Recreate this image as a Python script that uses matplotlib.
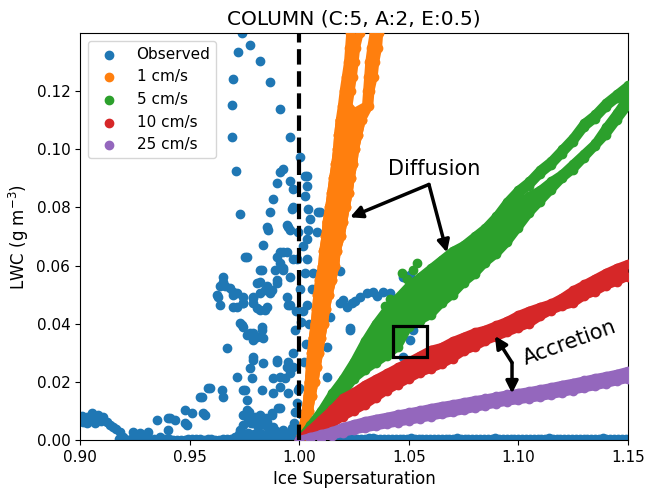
import matplotlib
matplotlib.use("Agg")
import matplotlib.pyplot as plt
from matplotlib.patches import Rectangle

# observed points (scattered part)
obs_x = [0.9739, 0.9776, 0.9721, 0.9821, 0.9698, 0.9867, 0.9693, 0.9912, 0.9693, 0.9958,
         1.0004, 0.9712, 0.9912, 0.9926, 0.9899, 0.9958, 0.9972, 0.9881, 0.9730, 0.9867,
         0.9853, 0.9944, 0.9972, 1.0036, 1.0027, 1.0027, 1.0036, 0.9967, 1.0040, 1.0086,
         1.0049, 0.9958, 1.0040, 0.9835, 1.0018, 0.9762, 0.9926, 0.9899, 0.9990, 0.9912,
         1.0036, 0.9821, 0.9890, 0.9926, 0.9652, 0.9639, 0.9625, 0.9684, 0.9698, 0.9807,
         0.9853, 0.9899, 0.9958, 0.9821, 0.9944, 1.0063, 0.9744, 0.9790, 0.9716, 0.9867,
         0.9639, 0.9698, 0.9744, 0.9790, 0.9821, 0.9853, 0.9958, 1.0036, 0.9730, 0.9744,
         0.9776, 0.9807, 0.9830, 0.9790, 0.9835, 0.9671, 0.9790, 0.9776, 0.9716, 0.9785,
         0.9899, 0.9949, 0.9972, 0.9881, 0.9935, 0.9958, 0.9912, 0.9593, 0.9547, 0.9648,
         0.9652, 0.9753, 0.9830, 0.9762, 0.9762, 0.9766, 0.9570, 0.9912, 0.9876, 0.9995,
         0.9990, 0.9790, 0.9821, 0.9853, 0.9881, 0.9926, 0.9730, 0.9990,
         0.9008, 0.9012, 0.9032, 0.9045, 0.9055, 0.9032, 0.9082, 0.9095, 0.9105, 0.9068,
         0.9123, 0.9138, 0.9151, 0.9165, 0.9182, 0.9196, 0.9242, 0.9274, 0.9310, 0.9351,
         0.9401, 0.9433, 0.9401, 0.9479, 0.9511, 0.9488, 0.9557, 0.9584, 0.9561, 0.9365,
         0.9306, 0.9899, 0.9944, 0.9912, 0.9880, 0.9949, 0.9876, 0.9903, 0.9790, 0.9835,
         0.9744, 0.9479, 0.9410, 0.9762, 0.9739, 0.9790, 0.9830, 0.9716, 0.9630, 0.9652,
         0.9661, 0.9698, 0.9744, 0.9790, 0.9807, 0.9844, 0.9821, 0.9844, 0.9876, 0.9899,
         0.9926, 0.9949, 0.9912, 0.9944, 0.9972, 0.9753, 0.9830, 0.9858, 0.9949, 0.9995,
         1.0027, 1.0036, 0.9725, 0.9745, 0.9765, 0.9780, 0.9795, 0.9810, 0.9830, 0.9845,
         0.9860, 0.9880, 0.9745, 0.9770, 0.9800, 0.9820, 0.9850, 0.9705, 0.9895, 0.9915,
         0.9955, 0.9975, 0.9980, 0.9965, 0.9985, 1.0018, 1.0045, 0.9980, 1.0030, 0.9970,
         1.0020, 1.0050, 1.0000, 1.0040, 1.0010, 1.0060, 1.0005, 1.0008, 0.9985, 1.0080,
         1.0095, 1.0186, 1.0186, 1.0218, 1.0241, 1.0277, 1.0309, 1.0337, 1.0382, 1.0414,
         1.0474, 1.0505, 1.0519, 1.0232, 1.0140, 1.0519, 1.0505, 1.0474, 1.0127, 1.0127,
         1.0200, 1.0232, 1.0355, 1.0255]
obs_y = [0.1400, 0.1359, 0.1334, 0.1303, 0.1241, 0.1231, 0.1152, 0.1138, 0.1041, 0.1041,
         0.0972, 0.0924, 0.0921, 0.0931, 0.0883, 0.0890, 0.0862, 0.0828, 0.0779, 0.0783,
         0.0734, 0.0741, 0.0803, 0.0907, 0.0838, 0.0907, 0.0872, 0.0793, 0.0793, 0.0783,
         0.0759, 0.0724, 0.0724, 0.0672, 0.0666, 0.0628, 0.0648, 0.0631, 0.0621, 0.0610,
         0.0621, 0.0586, 0.0586, 0.0593, 0.0562, 0.0528, 0.0500, 0.0524, 0.0500, 0.0541,
         0.0528, 0.0552, 0.0562, 0.0507, 0.0493, 0.0576, 0.0493, 0.0493, 0.0507, 0.0507,
         0.0466, 0.0459, 0.0472, 0.0472, 0.0448, 0.0459, 0.0466, 0.0466, 0.0403, 0.0390,
         0.0369, 0.0355, 0.0390, 0.0345, 0.0352, 0.0317, 0.0286, 0.0248, 0.0217, 0.0214,
         0.0269, 0.0269, 0.0252, 0.0214, 0.0214, 0.0231, 0.0183, 0.0179, 0.0148, 0.0172,
         0.0148, 0.0172, 0.0172, 0.0138, 0.0103, 0.0069, 0.0086, 0.0110, 0.0086, 0.0172,
         0.0128, 0.0059, 0.0069, 0.0062, 0.0045, 0.0034, 0.0034, 0.0034,
         0.0083, 0.0062, 0.0079, 0.0072, 0.0093, 0.0059, 0.0086, 0.0065, 0.0079, 0.0059,
         0.0062, 0.0050, 0.0045, 0.0038, 0.0028, 0.0010, 0.0028, 0.0024, 0.0028, 0.0069,
         0.0076, 0.0069, 0.0034, 0.0103, 0.0093, 0.0052, 0.0148, 0.0179, 0.0093, 0.0010,
         0.0007, 0.0276, 0.0252, 0.0217, 0.0162, 0.0162, 0.0093, 0.0110, 0.0276, 0.0265,
         0.0172, 0.0059, 0.0076, 0.0362, 0.0397, 0.0369, 0.0379, 0.0459, 0.0493, 0.0545,
         0.0528, 0.0510, 0.0472, 0.0490, 0.0455, 0.0448, 0.0545, 0.0517, 0.0517, 0.0541,
         0.0586, 0.0466, 0.0645, 0.0648, 0.0621, 0.0628, 0.0586, 0.0724, 0.0734, 0.0714,
         0.0576, 0.0690, 0.0020, 0.0050, 0.0025, 0.0060, 0.0020, 0.0045, 0.0020, 0.0050,
         0.0025, 0.0015, 0.0085, 0.0095, 0.0080, 0.0085, 0.0075, 0.0010, 0.0030, 0.0015,
         0.0020, 0.0060, 0.0095, 0.0040, 0.0010, 0.0445, 0.0400, 0.0380, 0.0330, 0.0300,
         0.0270, 0.0220, 0.0180, 0.0140, 0.0090, 0.0520, 0.0520, 0.0405, 0.0445, 0.0714,
         0.0783, 0.0580, 0.0472, 0.0459, 0.0472, 0.0493, 0.0507, 0.0510, 0.0510, 0.0507,
         0.0562, 0.0569, 0.0528, 0.0379, 0.0424, 0.0379, 0.0345, 0.0286, 0.0321, 0.0217,
         0.0483, 0.0386, 0.0497, 0.0479]

# observed points lying on the zero line
base_x = [0.9180, 0.9198, 0.9215, 0.9232, 0.9250, 0.9268, 0.9285, 0.9302, 0.9320, 0.9338,
          0.9355, 0.9372, 0.9390, 0.9408, 0.9425, 0.9442, 0.9460, 0.9478, 0.9495, 0.9512,
          0.9530, 0.9548, 0.9565, 0.9582, 0.9600, 0.9618, 0.9635, 0.9652, 0.9670, 0.9688,
          0.9705, 0.9740, 0.9775, 0.9810, 0.9845, 0.9880, 0.9915, 0.9950, 0.9985,
          1.0020, 1.0038, 1.0055, 1.0072, 1.0090, 1.0108, 1.0125, 1.0142, 1.0160, 1.0178,
          1.0195, 1.0212, 1.0230, 1.0248, 1.0265, 1.0282, 1.0300, 1.0318, 1.0335, 1.0352,
          1.0370, 1.0388, 1.0405, 1.0422, 1.0440, 1.0458, 1.0475, 1.0492, 1.0510, 1.0528,
          1.0545, 1.0562, 1.0580, 1.0598, 1.0615, 1.0632, 1.0650, 1.0668, 1.0685, 1.0702,
          1.0720, 1.0738, 1.0755, 1.0772, 1.0790, 1.0808, 1.0825, 1.0842, 1.0860, 1.0878,
          1.0895, 1.0912, 1.0930, 1.0948, 1.0965, 1.0982, 1.1000, 1.1018, 1.1035, 1.1052,
          1.1070, 1.1088, 1.1105, 1.1122, 1.1140, 1.1158, 1.1175, 1.1192, 1.1210, 1.1228,
          1.1245, 1.1262, 1.1280, 1.1298, 1.1315, 1.1332, 1.1350, 1.1368, 1.1385, 1.1402,
          1.1420, 1.1438, 1.1455, 1.1472, 1.1490]
base_y = [0.0002, 0.0001, 0.0000, 0.0002, 0.0003, 0.0001, 0.0001, 0.0000, 0.0000, 0.0002,
          0.0002, 0.0003, 0.0004, 0.0002, 0.0001, 0.0000, 0.0000, 0.0001, 0.0002, 0.0003,
          0.0003, 0.0002, 0.0001, 0.0002, 0.0002, 0.0001, 0.0000, 0.0002, 0.0003, 0.0004,
          0.0006, 0.0008, 0.0005, 0.0004, 0.0006, 0.0003, 0.0002, 0.0004, 0.0001,
          0.0003, 0.0004, 0.0005, 0.0003, 0.0004, 0.0005, 0.0006, 0.0004, 0.0003, 0.0004,
          0.0005, 0.0003, 0.0004, 0.0003, 0.0002, 0.0004, 0.0005, 0.0006, 0.0006, 0.0005,
          0.0004, 0.0003, 0.0003, 0.0004, 0.0005, 0.0004, 0.0004, 0.0005, 0.0006, 0.0004,
          0.0003, 0.0004, 0.0004, 0.0005, 0.0005, 0.0004, 0.0003, 0.0003, 0.0004, 0.0005,
          0.0006, 0.0005, 0.0004, 0.0003, 0.0003, 0.0004, 0.0005, 0.0004, 0.0004, 0.0005,
          0.0006, 0.0004, 0.0003, 0.0004, 0.0005, 0.0004, 0.0004, 0.0003, 0.0003, 0.0004,
          0.0005, 0.0004, 0.0004, 0.0005, 0.0006, 0.0004, 0.0003, 0.0004, 0.0005, 0.0004,
          0.0004, 0.0003, 0.0003, 0.0004, 0.0005, 0.0005, 0.0004, 0.0005, 0.0006, 0.0005,
          0.0004, 0.0004, 0.0005, 0.0004, 0.0004]

# model runs: edges of each band of points, sampled along ice supersaturation
band_x = [1.000, 1.005, 1.010, 1.015, 1.020, 1.025, 1.030, 1.035, 1.040, 1.045,
          1.050, 1.055, 1.060, 1.065, 1.070, 1.075, 1.080, 1.085, 1.090, 1.095,
          1.100, 1.105, 1.110, 1.115, 1.120, 1.125, 1.130, 1.135, 1.140, 1.145, 1.150]

w5_up = [0.000, 0.005, 0.010, 0.016, 0.021, 0.027, 0.034, 0.040, 0.045, 0.049,
         0.053, 0.056, 0.059, 0.062, 0.065, 0.067, 0.070, 0.073, 0.077, 0.082,
         0.086, 0.089, 0.093, 0.096, 0.100, 0.104, 0.109, 0.112, 0.116, 0.119, 0.122]
w5_up_in = [0.000, 0.0045, 0.009, 0.014, 0.018, 0.024, 0.029, 0.033, 0.037, 0.041,
            0.046, 0.048, 0.051, 0.054, 0.057, 0.060, 0.063, 0.067, 0.072, 0.0805,
            0.0845, 0.0875, 0.0915, 0.0945, 0.0985, 0.1025, 0.1075, 0.1105, 0.1145, 0.1175, 0.1205]
w5_low_in = [0.000, 0.0045, 0.009, 0.014, 0.018, 0.024, 0.029, 0.033, 0.037, 0.041,
             0.046, 0.048, 0.051, 0.054, 0.057, 0.060, 0.063, 0.067, 0.072, 0.077,
             0.0815, 0.084, 0.086, 0.089, 0.0915, 0.095, 0.0985, 0.102, 0.1075, 0.1125, 0.118]
w5_low = [0.000, 0.004, 0.008, 0.012, 0.016, 0.021, 0.024, 0.0265, 0.029, 0.032,
          0.039, 0.041, 0.043, 0.047, 0.050, 0.054, 0.057, 0.061, 0.064, 0.068,
          0.073, 0.078, 0.082, 0.086, 0.090, 0.093, 0.097, 0.101, 0.105, 0.110, 0.115]
w5_extra_x = [1.0519, 1.0537, 1.0490, 1.0470, 1.0414, 1.0390]
w5_extra_y = [0.0585, 0.0610, 0.0555, 0.0575, 0.0485, 0.0460]

w10_up = [0.000, 0.0035, 0.007, 0.0105, 0.0145, 0.0165, 0.019, 0.021, 0.023, 0.025,
          0.027, 0.029, 0.031, 0.032, 0.034, 0.0355, 0.037, 0.038, 0.0395, 0.041,
          0.043, 0.0445, 0.0458, 0.047, 0.049, 0.0515, 0.0535, 0.0555, 0.0575, 0.0592, 0.0606]
w10_low = [0.000, 0.002, 0.0035, 0.0055, 0.008, 0.010, 0.012, 0.0145, 0.017, 0.019,
           0.021, 0.023, 0.0245, 0.026, 0.028, 0.0305, 0.032, 0.034, 0.0355, 0.037,
           0.0385, 0.040, 0.0425, 0.0445, 0.046, 0.047, 0.0495, 0.051, 0.053, 0.0545, 0.0562]

w25_up = [0.000, 0.001, 0.002, 0.003, 0.0045, 0.0055, 0.0065, 0.0073, 0.008, 0.0088,
          0.0095, 0.0102, 0.011, 0.0117, 0.0123, 0.013, 0.0137, 0.0143, 0.015, 0.0157,
          0.0162, 0.0168, 0.0175, 0.0182, 0.019, 0.0197, 0.0205, 0.0213, 0.022, 0.0228, 0.0238]
w25_low = [0.000, 0.0003, 0.0008, 0.0015, 0.0025, 0.0033, 0.004, 0.0047, 0.0054, 0.006,
           0.0066, 0.0073, 0.008, 0.0088, 0.0095, 0.0102, 0.011, 0.0118, 0.0125, 0.0132,
           0.0137, 0.0142, 0.0148, 0.0155, 0.0162, 0.017, 0.0178, 0.0185, 0.0193, 0.0202, 0.021]

# 1 cm/s band is steep, so it is sampled along LWC instead
w1_y = [0.000, 0.005, 0.010, 0.015, 0.020, 0.025, 0.030, 0.035, 0.040, 0.045,
        0.050, 0.055, 0.060, 0.065, 0.070, 0.075, 0.080, 0.085, 0.090, 0.095,
        0.100, 0.105, 0.110, 0.115, 0.120, 0.125, 0.130, 0.135, 0.140]
w1_left = [1.0003, 1.0018, 1.0030, 1.0038, 1.0044, 1.0049, 1.0055, 1.0062, 1.0071, 1.0077,
           1.0083, 1.0091, 1.0105, 1.0110, 1.0120, 1.0125, 1.0137, 1.0146, 1.0155, 1.0165,
           1.0173, 1.0178, 1.0185, 1.0195, 1.0203, 1.0213, 1.0223, 1.0228, 1.0233]
w1_right = [1.0006, 1.0028, 1.0045, 1.0057, 1.0070, 1.0080, 1.0091, 1.0101, 1.0113, 1.0122,
            1.0135, 1.0151, 1.0165, 1.0171, 1.0190, 1.0201, 1.0213, 1.0226, 1.0235, 1.0247,
            1.0255, 1.0270, 1.0285, 1.0320, 1.0325, 1.0340, 1.0347, 1.0360, 1.0365]
w1_left_in = [1.0006, 1.0028, 1.0045, 1.0057, 1.0070, 1.0080, 1.0091, 1.0101, 1.0113, 1.0122,
              1.0135, 1.0151, 1.0165, 1.0171, 1.0190, 1.0201, 1.0213, 1.0226, 1.0235, 1.0247,
              1.0255, 1.0270, 1.0285, 1.0225, 1.0235, 1.0245, 1.0253, 1.0260, 1.0276]
w1_right_in = [1.0003, 1.0018, 1.0030, 1.0038, 1.0044, 1.0049, 1.0055, 1.0062, 1.0071, 1.0077,
               1.0083, 1.0091, 1.0105, 1.0110, 1.0120, 1.0125, 1.0137, 1.0146, 1.0155, 1.0165,
               1.0173, 1.0178, 1.0185, 1.0305, 1.0310, 1.0315, 1.0320, 1.0329, 1.0340]

labels = ["Observed", "1 cm/s", "5 cm/s", "10 cm/s", "25 cm/s"]
colors = ["tab:blue", "tab:orange", "tab:green", "tab:red", "tab:purple"]

LW = 5.8  # same width as a marker


def band_x_dir(ax, x, lo, hi, color, z):
    # band drawn as a filled strip with dotted edges
    ax.fill_between(x, lo, hi, color=color, lw=0, zorder=z)
    for edge in (lo, hi):
        ax.plot(x, edge, color=color, lw=LW, solid_capstyle="round", zorder=z)
        ax.scatter(x, edge, color=color, zorder=z)


def band_y_dir(ax, y, lo, hi, color, z):
    ax.fill_betweenx(y, lo, hi, color=color, lw=0, zorder=z)
    for edge in (lo, hi):
        ax.plot(edge, y, color=color, lw=LW, solid_capstyle="round", zorder=z)
        ax.scatter(edge, y, color=color, zorder=z)


fig = plt.figure(figsize=(6.46, 4.93), dpi=100)
ax = fig.add_axes([0.1238, 0.1075, 0.8483, 0.8256])

ax.scatter(obs_x, obs_y, color=colors[0], zorder=2, label=labels[0])
ax.scatter(base_x, base_y, color=colors[0], zorder=2)

band_y_dir(ax, w1_y, w1_left, w1_left_in, colors[1], 3)
band_y_dir(ax, w1_y, w1_right_in, w1_right, colors[1], 3)
ax.scatter([], [], color=colors[1], label=labels[1])

band_x_dir(ax, band_x, w5_low, w5_low_in, colors[2], 4)
band_x_dir(ax, band_x, w5_up_in, w5_up, colors[2], 4)
ax.scatter(w5_extra_x, w5_extra_y, color=colors[2], zorder=4, label=labels[2])

band_x_dir(ax, band_x, w10_low, w10_up, colors[3], 5)
ax.scatter([], [], color=colors[3], label=labels[3])

band_x_dir(ax, band_x, w25_low, w25_up, colors[4], 6)
ax.scatter([], [], color=colors[4], label=labels[4])

ax.axvline(1.0, color="black", ls="--", lw=3, zorder=7)

arrow = dict(arrowstyle="-|>", color="black", lw=2.5, mutation_scale=18,
             shrinkA=0, shrinkB=0)
ax.annotate("", xy=(1.0232, 0.0766), xytext=(1.0592, 0.0879), arrowprops=arrow, zorder=8)
ax.annotate("", xy=(1.0674, 0.0645), xytext=(1.0592, 0.0879), arrowprops=arrow, zorder=8)
ax.text(1.0617, 0.0931, "Diffusion", fontsize=15, ha="center", va="center", zorder=8)

ax.annotate("", xy=(1.0893, 0.0358), xytext=(1.0971, 0.0266), arrowprops=arrow, zorder=8)
ax.annotate("", xy=(1.0971, 0.0160), xytext=(1.0971, 0.0266), arrowprops=arrow, zorder=8)
ax.text(1.1235, 0.0335, "Accretion", fontsize=15, ha="center", va="center",
        rotation=20, zorder=8)

ax.add_patch(Rectangle((1.0428, 0.0286), 0.0155, 0.0107, fill=False,
                       ec="black", lw=2.3, zorder=9))

ax.set_xlim(0.90, 1.15)
ax.set_ylim(0.0, 0.14)
ax.set_xticks([0.90, 0.95, 1.00, 1.05, 1.10, 1.15])
ax.set_xticklabels(["0.90", "0.95", "1.00", "1.05", "1.10", "1.15"])
ax.set_yticks([0.00, 0.02, 0.04, 0.06, 0.08, 0.10, 0.12])
ax.set_yticklabels(["0.00", "0.02", "0.04", "0.06", "0.08", "0.10", "0.12"])
ax.tick_params(labelsize=11)
ax.set_xlabel("Ice Supersaturation", fontsize=12)
ax.set_ylabel("LWC (g m$^{-3}$)", fontsize=12)
ax.set_title("COLUMN (C:5, A:2, E:0.5)", fontsize=14.5)
ax.legend(loc="upper left", fontsize=11)

fig.savefig("out.png", dpi=100)
